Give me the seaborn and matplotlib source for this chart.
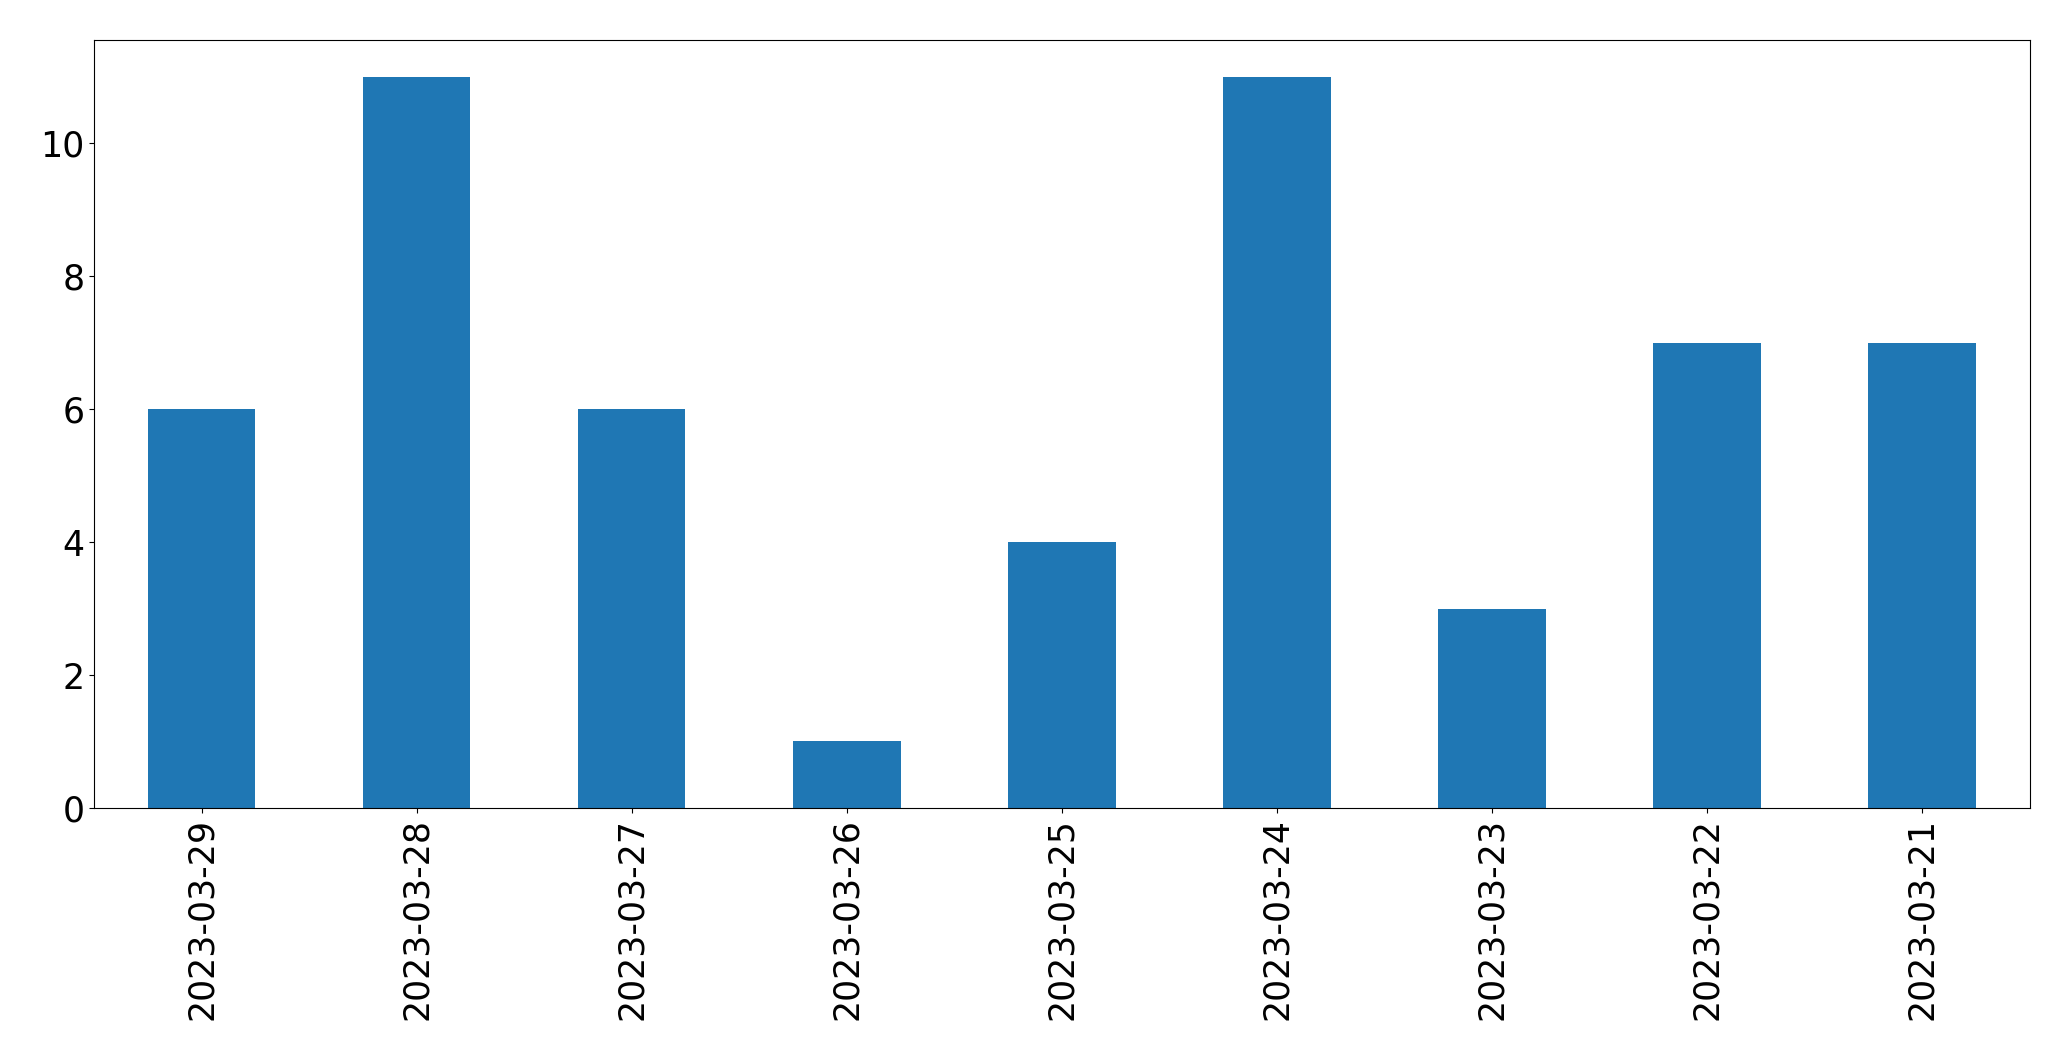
import matplotlib
matplotlib.use("Agg")
import matplotlib.pyplot as plt
import seaborn as sns
import pandas as pd

dates = ["2023-03-29", "2023-03-28", "2023-03-27", "2023-03-26", "2023-03-25",
         "2023-03-24", "2023-03-23", "2023-03-22", "2023-03-21"]
counts = [6, 11, 6, 1, 4, 11, 3, 7, 7]

df = pd.DataFrame({"date": dates, "count": counts})

fig = plt.figure(figsize=(20.71, 10.61), dpi=100)
ax = fig.add_axes([0.0454, 0.2385, 0.9346, 0.7235])
sns.barplot(data=df, x="date", y="count", order=dates, color="#1f77b4",
            saturation=1, width=0.5, linewidth=0, ax=ax)
ax.set_xlim(-0.5, len(dates) - 0.5)
ax.set_ylim(0, 11.55)
ax.set_xlabel("")
ax.set_ylabel("")
for s in ax.spines.values():
    s.set_color("black")
ax.tick_params(axis="both", labelsize=25, colors="black")
plt.setp(ax.get_xticklabels(), rotation=90)
fig.savefig("out.png", dpi=100)
